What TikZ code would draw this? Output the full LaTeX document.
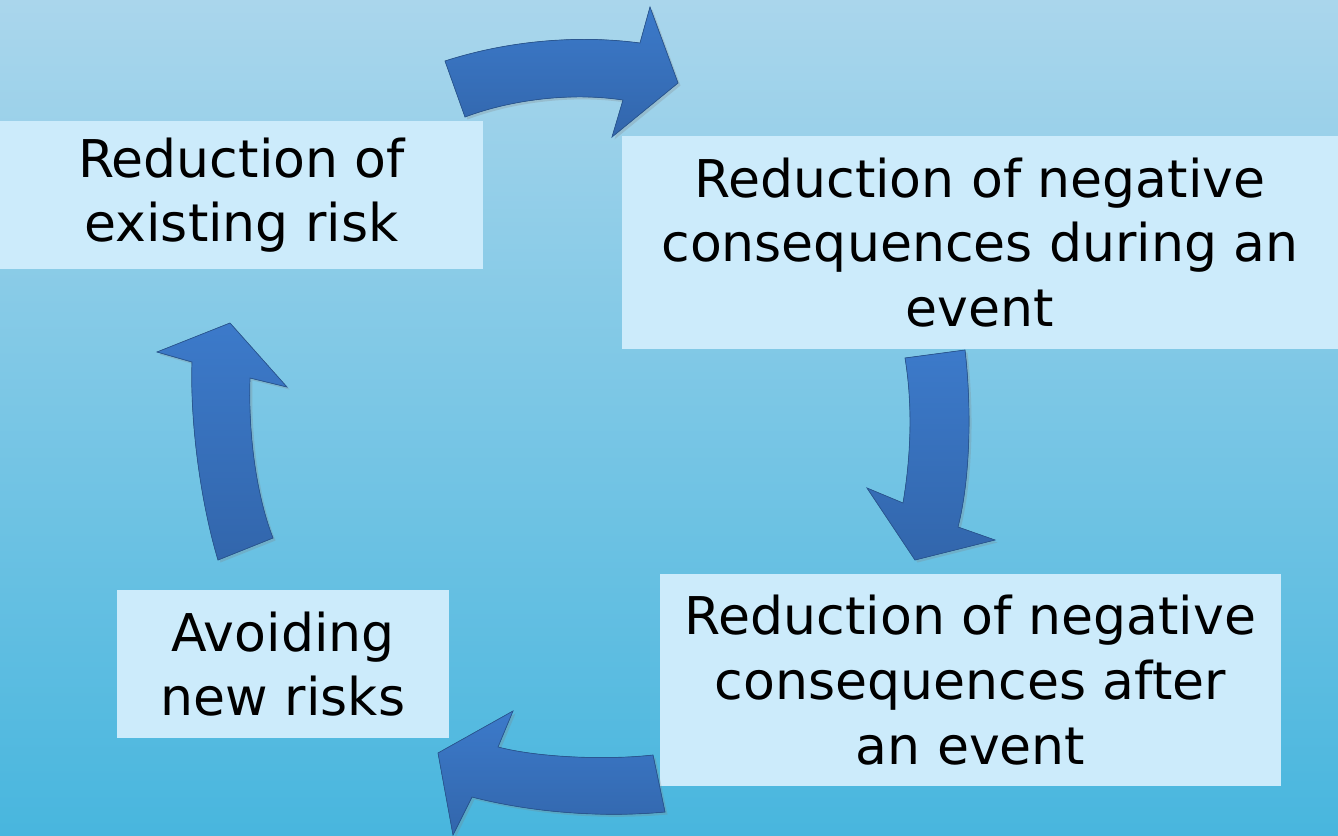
\documentclass[tikz,border=0pt]{standalone}
\usepackage{fontspec}
\setmainfont{DejaVu Sans}
\usetikzlibrary{positioning,shadows}
\definecolor{watertop}{RGB}{170,214,236}
\definecolor{waterbot}{RGB}{72,182,222}
\definecolor{stagefill}{RGB}{204,235,251}
\definecolor{arrowtop}{RGB}{60,122,202}
\definecolor{arrowbot}{RGB}{50,102,172}
\tikzstyle{stage} = [fill=stagefill, inner sep=0pt, align=center, text=black,
    font=\fontsize{14.8}{18.4}\selectfont]
\tikzstyle{cyclearrow} = [top color=arrowtop, bottom color=arrowbot, draw=arrowbot!85!black,
    line width=0.2pt, drop shadow={shadow xshift=0.025cm, shadow yshift=-0.025cm, opacity=0.25}]

\begin{document}
\begin{tikzpicture}[x=0.01cm, y=-0.01cm]
        \useasboundingbox (0,0) rectangle (1338,836);
        \shade[top color=watertop, bottom color=waterbot] (0,0) rectangle (1338,836);

        \node[stage, minimum width=4.83cm, minimum height=1.48cm] (existing) at (241.5,195)
            {Reduction of\\existing risk};
        \node[stage, minimum width=7.16cm, minimum height=2.13cm] (during) at (980,242.5)
            {Reduction of negative\\consequences during an\\event};
        \node[stage, minimum width=6.21cm, minimum height=2.12cm] (after) at (970.5,680)
            {Reduction of negative\\consequences after\\an event};
        \node[stage, minimum width=3.32cm, minimum height=1.48cm] (avoiding) at (283,664)
            {Avoiding\\new risks};

        % arrows of the cycle
        \filldraw[cyclearrow] (445,61) .. controls (510,40) and (580,35) .. (640,43)
            -- (650,7) -- (678,83) -- (612,137) -- (623,100)
            .. controls (570,92) and (510,100) .. (465,117) -- cycle;
        \filldraw[cyclearrow] (965,350) .. controls (972,410) and (970,480) .. (958,527)
            -- (995,540) -- (915,560) -- (867,488) -- (903,503)
            .. controls (912,450) and (912,400) .. (905,358) -- cycle;
        \filldraw[cyclearrow] (653,755) .. controls (610,760) and (540,758) .. (498,747)
            -- (513,711) -- (438,753) -- (453,835) -- (472,797)
            .. controls (530,812) and (600,818) .. (665,812) -- cycle;
        \filldraw[cyclearrow] (218,560) .. controls (200,500) and (190,420) .. (192,362)
            -- (157,352) -- (230,323) -- (287,387) -- (250,378)
            .. controls (248,440) and (258,500) .. (273,538) -- cycle;
\end{tikzpicture}
\end{document}
